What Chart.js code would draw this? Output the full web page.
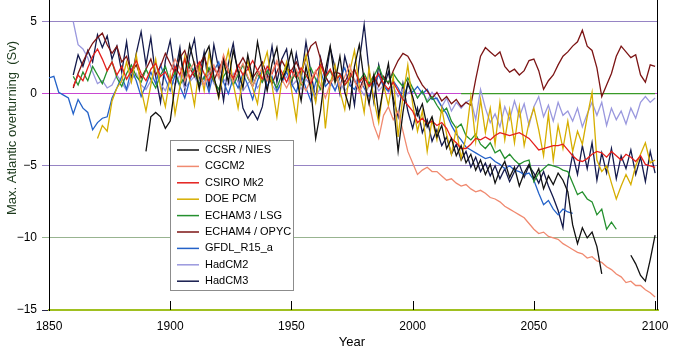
<!DOCTYPE html>
<html><head><meta charset="utf-8">
<script src="https://cdn.jsdelivr.net/npm/chart.js@4"></script>
<style>html,body{margin:0;padding:0;background:#fff;}canvas{display:block;}</style>
</head><body>
<canvas id="c" width="677" height="350"></canvas>
<script>
const _ = null;
const years = [
1850,1852,1854,1856,1858,1860,1862,1864,1866,1868,
1870,1872,1874,1876,1878,1880,1882,1884,1886,1888,
1890,1892,1894,1896,1898,1900,1902,1904,1906,1908,
1910,1912,1914,1916,1918,1920,1922,1924,1926,1928,
1930,1932,1934,1936,1938,1940,1942,1944,1946,1948,
1950,1952,1954,1956,1958,1960,1962,1964,1966,1968,
1970,1972,1974,1976,1978,1980,1982,1984,1986,1988,
1990,1992,1994,1996,1998,2000,2002,2004,2006,2008,
2010,2012,2014,2016,2018,2020,2022,2024,2026,2028,
2030,2032,2034,2036,2038,2040,2042,2044,2046,2048,
2050,2052,2054,2056,2058,2060,2062,2064,2066,2068,
2070,2072,2074,2076,2078,2080,2082,2084,2086,2088,
2090,2092,2094,2096,2098,2100];

const seriesNames = ["CCSR / NIES","CGCM2","CSIRO Mk2","DOE PCM","ECHAM3 / LSG","ECHAM4 / OPYC","GFDL_R15_a","HadCM2","HadCM3"];

const ccsrNies = [
_,_,_,_,_,_,_,_,_,_,
_,_,_,_,_,_,_,_,_,_,
-4.0,-1.6,-1.3,-1.6,-2.4,-1.9,0.6,2.8,1.2,3.4,
2.0,0.3,2.6,3.3,1.2,-0.2,2.3,0.8,3.0,1.6,
0.4,2.7,1.0,3.6,1.8,0.2,2.1,3.2,0.9,1.7,
3.0,1.2,-0.5,1.9,0.3,-3.1,-1.2,1.6,3.3,0.8,
2.6,0.1,-1.0,1.9,3.4,0.9,-0.7,1.3,-1.5,0.5,
2.1,-0.6,-4.0,-1.3,0.8,-0.2,-1.5,-0.7,-2.3,-1.6,
-3.0,-2.2,-3.8,-3.1,-4.3,-3.6,-4.8,-4.2,-5.3,-4.6,
-5.6,-4.9,-6.2,-5.3,-4.7,-5.8,-5.1,-6.4,-5.5,-4.9,
-5.9,-5.2,-6.6,-5.7,-6.3,-5.5,-6.0,-6.8,-9.1,-10.4,
-9.3,-10.0,-9.6,-10.6,-12.5,_,_,_,_,_,
-11.2,-11.8,-12.6,-13.0,-11.5,-9.8];

const cgcm2 = [
_,_,_,_,_,_,_,_,_,_,
_,_,_,_,_,_,_,_,_,_,
_,_,_,_,_,1.5,2.4,1.8,0.9,1.6,
2.2,1.3,0.6,1.4,2.0,1.1,2.7,1.6,0.8,1.5,
2.1,1.2,0.5,1.3,1.8,0.9,1.5,2.3,1.0,0.4,
1.1,1.7,0.8,0.2,1.0,1.6,0.6,-0.3,0.7,1.3,
0.5,1.2,2.0,0.9,0.1,0.8,-0.6,-2.2,-3.1,-1.5,
-0.9,-1.8,-1.2,-2.6,-4.0,-4.8,-5.6,-5.3,-5.1,-5.4,
-5.4,-5.7,-6.0,-5.9,-6.2,-6.4,-6.3,-6.6,-6.8,-6.7,
-6.9,-7.2,-7.3,-7.5,-7.8,-8.0,-8.2,-8.4,-8.6,-9.0,
-9.4,-9.7,-9.6,-9.9,-10.0,-10.1,-10.4,-10.6,-10.8,-11.0,
-11.1,-11.4,-11.3,-11.6,-11.7,-12.0,-12.2,-12.5,-12.7,-13.1,
-13.0,-13.3,-13.3,-13.6,-13.8,-14.1];

const csiroMk2 = [
_,_,_,_,_,0.5,1.3,0.9,1.8,2.6,
3.1,2.4,1.6,2.2,1.3,1.9,1.0,1.6,2.3,1.4,
0.9,1.7,2.1,1.2,1.5,0.8,1.9,1.3,2.4,1.1,
1.6,2.2,1.4,0.9,1.8,1.2,2.6,1.5,1.1,2.0,
1.3,1.7,2.3,1.6,1.0,1.9,1.4,2.2,1.5,0.8,
1.6,1.1,1.8,1.3,0.7,1.5,2.0,1.2,1.7,0.9,
1.3,0.6,1.1,1.7,0.8,1.2,0.5,0.9,1.4,0.7,
0.3,0.8,0.2,-0.4,-0.8,-1.2,-2.0,-1.7,-2.1,-1.9,
-2.2,-2.0,-2.4,-3.1,-3.4,-3.8,-3.8,-3.5,-3.1,-3.2,
-3.0,-3.2,-2.9,-2.7,-2.8,-2.9,-2.8,-2.7,-2.9,-3.1,
-3.5,-3.9,-3.8,-3.7,-3.6,-3.6,-3.5,-3.9,-4.3,-4.6,
-4.7,-4.5,-4.2,-4.0,-4.1,-4.4,-4.0,-4.3,-4.6,-4.2,
-4.4,-4.7,-4.3,-4.9,-5.0,-5.1];

const doePcm = [
_,_,_,_,_,_,_,_,_,_,
-3.1,-2.2,-2.6,-0.5,0.4,0.9,2.2,0.8,2.7,0.3,
-1.2,0.6,2.4,0.4,-0.9,1.3,-1.4,0.5,2.6,1.0,
-0.8,1.9,0.2,2.8,1.1,-0.3,1.6,3.0,0.7,-1.0,
1.2,2.3,0.4,-0.7,1.8,2.9,0.6,-1.6,0.9,2.2,
0.3,-1.8,1.4,2.7,0.8,-0.6,1.9,-2.4,0.7,2.0,
0.2,-1.1,1.5,3.0,0.5,-1.3,1.8,-0.4,-2.0,0.6,
-0.8,1.2,-3.0,-0.2,2.0,-0.7,-2.6,-1.2,-4.0,-1.8,
-3.2,-1.0,-2.8,-4.2,-2.4,-4.5,-3.0,-0.2,-3.3,-0.4,
-2.7,-1.0,-3.5,-0.6,-3.2,-1.1,-3.4,-0.9,-3.6,-2.0,
-1.0,-2.5,-4.3,-1.4,-4.6,-2.2,-3.8,-1.9,-4.0,-2.6,
-3.5,-1.6,0.1,-4.6,-5.4,-5.0,-6.2,-7.3,-6.4,-5.6,
-6.3,-5.0,-4.2,-3.4,-4.8,-4.6];

const echam3Lsg = [
_,_,_,_,_,1.2,0.6,1.5,0.9,1.9,
1.3,0.7,1.6,2.2,1.1,0.5,1.4,2.0,1.2,0.8,
1.7,1.0,0.4,1.3,1.9,0.8,1.5,0.6,1.2,2.1,
1.4,0.7,1.1,1.8,0.9,0.3,1.2,1.7,0.6,1.3,
2.0,1.1,0.5,1.4,0.8,1.6,1.0,0.4,1.3,1.9,
0.9,1.5,0.6,1.2,1.8,1.0,0.3,1.1,1.6,0.8,
1.3,0.6,1.0,1.7,0.9,1.4,0.7,1.2,1.9,1.0,
0.8,1.4,0.9,0.5,1.1,0.4,-0.3,0.2,-0.6,-0.2,
-0.8,-1.3,-1.0,-1.9,-2.4,-2.1,-2.9,-3.2,-2.8,-3.5,
-3.8,-3.4,-4.1,-3.9,-4.5,-4.2,-4.6,-4.9,-4.7,-4.6,
-6.1,-5.5,-5.2,-4.9,-5.0,-5.1,-5.3,-5.4,-6.2,-7.0,
-6.8,-7.3,-7.5,-8.4,-8.0,-9.4,-8.9,-9.4,_,_,
_,_,_,_,_,_];

const echam4Opyc = [
_,_,_,_,_,0.4,1.4,2.2,2.9,3.5,
3.9,4.2,3.4,2.8,3.3,2.2,2.6,1.5,2.0,1.1,
1.7,2.4,1.3,1.9,2.8,2.1,1.4,2.5,3.0,1.8,
1.2,2.0,2.6,1.5,0.9,1.7,2.4,1.6,1.0,1.9,
2.5,1.8,1.1,1.6,2.2,1.3,0.7,1.5,2.3,1.7,
1.6,2.2,1.4,2.5,3.3,3.6,2.4,1.2,0.6,1.5,
1.4,0.8,1.5,0.9,0.3,1.1,0.6,1.3,0.5,1.2,
0.7,1.6,2.3,2.8,2.6,2.0,1.2,0.6,0.2,-0.3,
0.1,-0.5,-0.2,-0.7,-0.4,-0.9,-0.6,-0.8,1.0,2.6,
3.2,2.9,2.6,2.9,1.9,1.5,1.7,1.3,1.6,2.3,
2.4,1.6,0.3,0.9,1.3,2.0,2.6,2.9,3.3,3.6,
4.4,3.3,3.0,1.8,-0.2,0.6,1.4,2.6,3.3,2.9,
2.5,2.7,1.3,0.8,2.0,1.9];

const gfdlR15a = [
1.1,1.2,0.1,-0.1,-0.3,-1.4,-0.4,-1.0,-1.3,-2.5,
-2.0,-1.7,-1.6,-0.3,0.4,1.2,0.3,1.7,0.9,-0.2,
0.6,1.5,0.7,2.0,1.0,0.2,1.3,0.5,-0.3,0.9,
1.8,0.6,1.2,0.1,1.6,2.2,0.8,0.0,1.1,0.4,
1.4,0.6,-0.4,0.9,1.7,0.5,1.2,0.2,0.8,1.5,
0.7,0.1,1.3,0.4,-0.5,0.8,1.6,0.5,0.9,0.2,
1.1,1.8,0.6,0.3,1.0,0.4,-0.2,0.7,1.3,0.5,
0.2,0.9,0.4,-0.3,0.6,0.1,0.5,0.0,0.3,-0.4,
-0.3,-0.9,-1.4,-2.2,-2.8,-3.2,-3.7,-3.9,-4.1,-4.3,
-4.5,-4.4,-4.7,-4.9,-5.2,-5.0,-5.3,-5.4,-5.6,-5.5,
-6.0,-6.9,-7.7,-7.4,-8.0,-8.4,-8.0,-8.2,-8.3,_,
_,_,_,_,_,_,_,_,_,_,
_,_,_,_,_,_];

const hadCM2 = [
_,_,_,_,_,5.0,3.4,3.1,2.5,1.5,
0.7,0.9,0.4,0.6,1.3,0.8,0.2,1.0,1.4,0.6,
0.3,0.9,1.5,0.7,0.2,1.1,0.6,1.3,0.4,0.8,
1.2,0.5,0.9,1.6,0.7,0.3,1.0,0.6,1.4,0.8,
0.2,0.7,1.1,0.4,0.9,1.5,0.6,0.1,0.8,1.2,
0.5,0.9,0.3,1.0,0.6,-0.2,0.4,1.1,0.7,0.3,
0.8,0.2,0.6,1.0,0.4,-0.1,0.5,0.9,0.2,0.6,
0.1,0.5,-0.2,0.3,0.0,0.4,-0.3,0.2,-0.5,0.1,
-0.4,-0.9,-0.3,-1.2,-0.6,-1.0,-0.6,-0.4,-1.8,0.3,
-1.0,-2.0,-1.4,-2.3,-0.9,-1.8,-0.5,-1.6,-0.7,-2.2,
-0.9,-0.2,-1.6,-0.8,-1.9,-0.6,-1.5,-1.2,-1.9,-1.0,
-2.3,-1.4,-0.6,-1.5,-0.6,-2.2,-1.0,-1.8,-1.2,-2.1,
-1.0,-1.7,-0.6,-0.2,-0.6,-0.3];

const hadCM3 = [
_,_,_,_,_,1.3,2.7,1.9,3.0,2.2,
4.1,3.2,4.0,2.4,3.3,1.5,3.6,1.0,2.8,4.3,
2.0,3.9,1.2,-0.6,2.3,3.7,1.4,3.2,0.3,2.6,
3.8,1.1,2.9,0.4,3.4,1.7,-0.5,2.1,3.5,1.3,
-1.0,-1.7,-1.2,-1.8,-0.9,1.2,3.3,0.8,2.4,3.1,
0.6,2.8,1.0,3.6,1.5,-0.4,2.5,0.9,3.2,1.8,
0.0,2.6,1.3,-0.8,2.2,4.8,1.6,-0.6,2.0,0.4,
1.5,-0.3,-1.6,0.7,-1.2,-2.4,-1.0,-2.7,-1.8,-3.3,
-2.5,-3.6,-3.0,-4.2,-3.5,-4.6,-4.0,-5.1,-4.4,-5.4,
-4.8,-5.7,-5.0,-5.9,-5.2,-6.1,-5.4,-4.9,-5.8,-5.0,
-5.5,-6.2,-5.4,-6.4,-7.2,-8.1,-9.3,-6.0,-4.2,-5.6,
-3.6,-5.2,-3.4,-6.0,-4.1,-5.5,-3.8,-5.9,-4.3,-5.2,
-3.9,-5.6,-4.4,-6.1,-4.0,-5.5];

const seriesValues = [ccsrNies, cgcm2, csiroMk2, doePcm, echam3Lsg, echam4Opyc, gfdlR15a, hadCM2, hadCM3];
const seriesColors = ['#111111','#f08a70','#e41f1c','#d6ae00','#24902e','#7c1414','#2462c8','#9a98de','#141a4c'];

const yTickValues = [-15,-10,-5,0,5];
const xTickValues = [1850,1900,1950,2000,2050,2100];
const zeroYears = [2020,2100];
const zeroValues = [0,0];

const gridColors = {'5':'#9684c4','0':'#c848d2','-5':'#9684c4','-10':'#98b490','-15':'#a0c020'};
const FONT = "'Liberation Sans', Arial, Helvetica, sans-serif";

const datasets = seriesNames.map((name,k)=>({
  label: name,
  data: years.map((yr,i)=>({x:yr, y:seriesValues[k][i]})),
  borderColor: seriesColors[k],
  backgroundColor: seriesColors[k],
  borderWidth: 1.3,
  pointRadius: 0,
  tension: 0,
  spanGaps: false,
  fill: false
}));
datasets.push({
  label: '_zero',
  data: zeroYears.map((yr,i)=>({x:yr, y:zeroValues[i]})),
  borderColor: '#3a9a28',
  borderWidth: 1.3,
  pointRadius: 0,
  fill: false
});

const decor = {
  id: 'decor',
  afterDatasetsDraw(chart) {
    const ctx = chart.ctx, a = chart.chartArea, xs = chart.scales.x;
    ctx.save();
    ctx.strokeStyle = '#000'; ctx.lineWidth = 1;
    xTickValues.forEach(v => {
      if (v === 1850) return;
      const px = Math.round(xs.getPixelForValue(v)) + 0.5;
      ctx.beginPath(); ctx.moveTo(px, a.bottom); ctx.lineTo(px, a.bottom - 9); ctx.stroke();
    });
    ctx.beginPath(); ctx.moveTo(a.right - 0.5, a.top); ctx.lineTo(a.right - 0.5, a.bottom); ctx.stroke();
    const bx = 170.5, by = 140.5, bw = 123, bh = 150;
    ctx.fillStyle = '#fff'; ctx.fillRect(bx, by, bw, bh);
    ctx.strokeStyle = '#8c8c8c'; ctx.lineWidth = 1; ctx.strokeRect(bx, by, bw, bh);
    ctx.font = '11px ' + FONT; ctx.textBaseline = 'middle'; ctx.textAlign = 'left';
    seriesNames.forEach((n,k) => {
      const yy = 150 + k * 16.4;
      ctx.strokeStyle = seriesColors[k]; ctx.lineWidth = 1.5;
      ctx.beginPath(); ctx.moveTo(177, yy); ctx.lineTo(199, yy); ctx.stroke();
      ctx.fillStyle = '#000'; ctx.fillText(n, 205, yy);
    });
    ctx.fillStyle = '#000'; ctx.font = '13px ' + FONT; ctx.textAlign = 'center';
    ctx.fillText('Year', 352, 342);
    ctx.translate(12.5, 128); ctx.rotate(-Math.PI/2);
    ctx.fillStyle = '#1c3a1c';
    ctx.fillText('Max. Atlantic overturning  (Sv)', 0, 0);
    ctx.restore();
  }
};

new Chart(document.getElementById('c'), {
  type: 'line',
  data: { datasets },
  plugins: [decor],
  options: {
    responsive: false, animation: false, devicePixelRatio: 1,
    layout: { padding: { left: 0, right: 19, top: 0, bottom: 0 } },
    plugins: { legend: { display: false }, tooltip: { enabled: false } },
    scales: {
      x: {
        type: 'linear', min: 1850, max: 2101.2,
        afterBuildTicks: s => { s.ticks = xTickValues.map(v => ({value: v})); },
        afterFit: s => { s.height = 40; s.paddingLeft = 0; s.paddingRight = 0; },
        grid: { display: false, drawTicks: false },
        border: { display: true, color: '#a0c020', width: 2 },
        ticks: { padding: 9, color: '#000', font: { size: 12, family: FONT }, maxRotation: 0, autoSkip: false, callback: v => String(v) }
      },
      y: {
        min: -15, max: 6.5,
        afterBuildTicks: s => { s.ticks = yTickValues.map(v => ({value: v})); },
        afterFit: s => { s.width = 49; s.paddingTop = 0; s.paddingBottom = 0; },
        grid: {
          color: c => gridColors[String(c.tick.value)] || '#ccc',
          tickColor: c => (c.tick.value === -15 ? '#28284a' : (gridColors[String(c.tick.value)] || '#ccc')),
          tickLength: 7, lineWidth: 1, drawTicks: true
        },
        border: { display: true, color: '#000', width: 1 },
        ticks: { padding: 5, color: '#000', font: { size: 12, family: FONT }, autoSkip: false,
          callback: v => (v < 0 ? '\u2212' + Math.abs(v) : String(v)) }
      }
    }
  }
});
</script>
</body></html>
